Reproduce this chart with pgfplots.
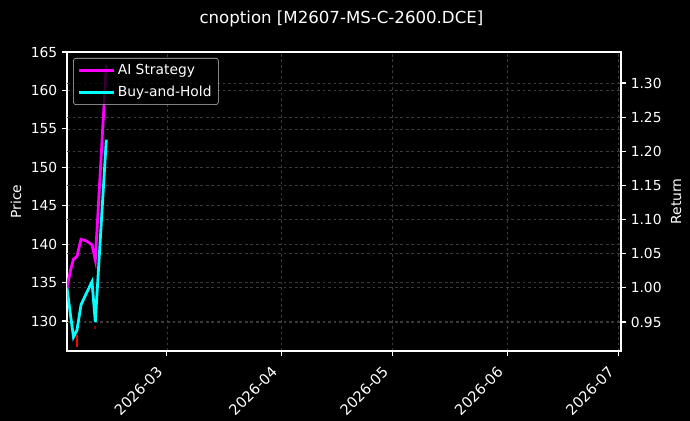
\documentclass[border=0pt]{standalone}
\usepackage{fontspec}
\setmainfont{DejaVu Sans}
\usepackage{pgfplots}
\pgfplotsset{compat=1.18}

\definecolor{gridc}{RGB}{58,58,58}
\definecolor{legedge}{RGB}{200,200,200}
\definecolor{ai}{RGB}{255,0,255}
\definecolor{bh}{RGB}{0,255,255}

% x = days since 2026-02-01
\pgfplotsset{
  darkbase/.style={
    scale only axis,
    width=398.88bp, height=215.28bp,
    at={(0,0)}, anchor=south west,
    xmin=1, xmax=150.7,
    axis line style={white, line width=0.8bp},
    tick style={white, line width=0.8bp},
    tick align=outside,
    major tick length=3.5bp,
    ticklabel style={font=\fontsize{10}{12}\selectfont, text=white},
    label style={font=\fontsize{10}{12}\selectfont, text=white},
    /pgf/number format/assume math mode=true,
    grid style={gridc, dash pattern=on 2bp off 2bp, line width=0.5bp},
  }
}

\begin{document}
\begin{tikzpicture}
\fill[black] (-48.24bp,-50.4bp) rectangle (448.56bp,252.72bp);

% price axis (left)
\begin{axis}[
  darkbase,
  ymin=126.1, ymax=165,
  ytick={130,135,140,145,150,155,160,165},
  xtick={28,59,89,120,150},
  xticklabels={2026-03,2026-04,2026-05,2026-06,2026-07},
  xticklabel style={font=\fontsize{10.5}{12.5}\selectfont,
    xshift=-8bp, yshift=-2bp, rotate=45, anchor=north east},
  xmajorgrids, ymajorgrids,
  ytick pos=left, xtick pos=bottom,
  ylabel={Price},
]
\addplot[red, line width=1.6bp] coordinates {(3.62,126.6) (3.62,128.2)};
\addplot[red!55!black, line width=1.2bp] coordinates {(8.57,128.9) (8.57,129.3)};
\end{axis}

% return axis (right)
\begin{axis}[
  darkbase,
  axis x line=none,
  axis y line*=right,
  ymin=0.9075, ymax=1.3454,
  ytick={0.95,1.00,1.05,1.10,1.15,1.20,1.25,1.30},
  yticklabel style={/pgf/number format/.cd, fixed, fixed zerofill, precision=2},
  ymajorgrids,
  ylabel={Return},
  legend style={at={(0.011,0.98)}, anchor=north west,
    draw=legedge, fill=black, fill opacity=0.8, text opacity=1,
    text=white, rounded corners=2bp,
    font=\fontsize{10}{12}\selectfont, row sep=2.5bp,
    inner xsep=3bp, inner ysep=2.5bp},
  legend cell align=left,
  legend image code/.code={\draw[#1] (0bp,0bp) -- (21bp,0bp); \path (0bp,0bp) -- (25bp,0bp);},
]
\addplot[ai, line width=2bp] coordinates {
  (1.00,1.000) (1.95,1.026) (2.76,1.042) (3.70,1.046) (4.78,1.071)
  (6.14,1.069) (7.76,1.063) (8.65,1.041) (11.62,1.326)
};
\addlegendentry{AI Strategy}
\addplot[bh, line width=2bp] coordinates {
  (1.00,1.000) (1.95,0.960) (2.76,0.928) (3.70,0.938) (4.78,0.975)
  (6.14,0.991) (7.76,1.009) (8.65,0.950) (11.62,1.217)
};
\addlegendentry{Buy-and-Hold}
\end{axis}

\node[anchor=base, text=white, font=\fontsize{12}{14}\selectfont]
  at (197.6bp,235.8bp) {cnoption [M2607-MS-C-2600.DCE]};

\pgfresetboundingbox
\path (-48.24bp,-50.4bp) rectangle (448.56bp,252.72bp);
\end{tikzpicture}
\end{document}
